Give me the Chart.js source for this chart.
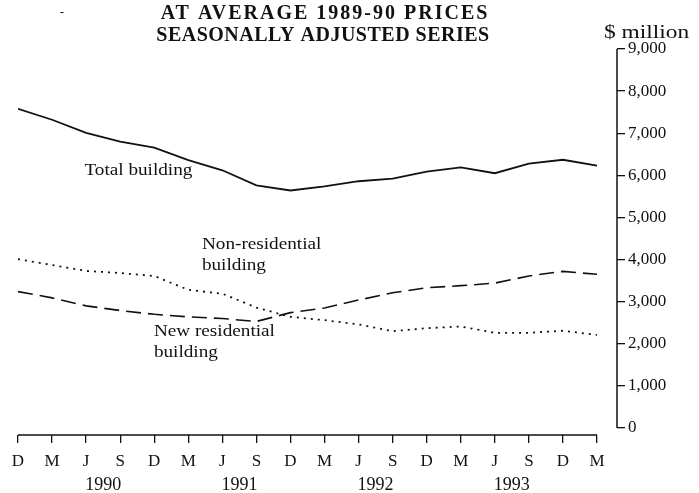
<!DOCTYPE html>
<html>
<head>
<meta charset="utf-8">
<script src="https://cdn.jsdelivr.net/npm/chart.js@4.4.1/dist/chart.umd.min.js"></script>
<style>
  html, body { margin: 0; padding: 0; background: #fff; }
</style>
</head>
<body>
<canvas id="chart" width="699" height="493"></canvas>
<script>
// quarterly building activity, Dec 1989 to Mar 1994 ($ million, 1989-90 prices)
const quarters = ['D','M','J','S','D','M','J','S','D','M','J','S','D','M','J','S','D','M'];
const years = ['1990','1991','1992','1993'];
const yearPos = [2.5, 6.5, 10.5, 14.5];   // centred between J and S of each year
const yTicks = [0,1000,2000,3000,4000,5000,6000,7000,8000,9000];

const totalBuilding  = [7580,7320,7010,6800,6660,6360,6120,5760,5640,5740,5860,5920,6090,6190,6050,6280,6370,6230];
const nonResidential = [4010,3870,3730,3680,3610,3280,3190,2860,2640,2560,2460,2300,2370,2410,2260,2260,2310,2210];
const newResidential = [3240,3090,2900,2790,2700,2640,2600,2530,2740,2850,3040,3210,3330,3380,3440,3610,3720,3650];

const SERIF = '"Liberation Serif", "Times New Roman", serif';
const ink = '#111';

function pts(arr){ return arr.map((v, i) => ({x: i, y: v})); }

// text labels next to the lines, anchored in data units
const seriesLabels = [
  {lines: ['Total building'], x: 1.95, y: 6100},
  {lines: ['Non-residential', 'building'], x: 5.4, y: 4350},
  {lines: ['New residential', 'building'], x: 3.99, y: 2290}
];

// the scanned lettering is a bit wider than Liberation Serif, so stretch it
function wideText(ctx, t, x, y, sx){
  ctx.save();
  ctx.translate(x, y);
  ctx.scale(sx, 1);
  ctx.fillText(t, 0, 0);
  ctx.restore();
}

const decor = {
  id: 'decor',
  afterDraw(chart){
    const {ctx, chartArea, scales: {x, y}} = chart;
    ctx.save();
    ctx.strokeStyle = ink;
    ctx.lineWidth = 1.5;
    // x axis only spans the quarters
    ctx.beginPath();
    ctx.moveTo(x.getPixelForValue(0), chartArea.bottom);
    ctx.lineTo(x.getPixelForValue(quarters.length - 1), chartArea.bottom);
    ctx.stroke();
    // y axis from 0 to 9,000
    ctx.beginPath();
    ctx.moveTo(chartArea.right, y.getPixelForValue(0));
    ctx.lineTo(chartArea.right, y.getPixelForValue(9000));
    ctx.stroke();

    ctx.fillStyle = ink;
    ctx.textBaseline = 'middle';
    ctx.textAlign = 'left';
    ctx.font = '16px ' + SERIF;
    seriesLabels.forEach(l => {
      const px = x.getPixelForValue(l.x);
      const py = y.getPixelForValue(l.y);
      l.lines.forEach((t, k) => wideText(ctx, t, px, py + k * 21, 1.2));
    });

    ctx.font = '18px ' + SERIF;
    wideText(ctx, '$ million', 604, 33, 1.3);

    ctx.textAlign = 'center';
    ctx.font = 'bold 20px ' + SERIF;
    ctx.letterSpacing = '2px';
    ctx.fillText('AT AVERAGE 1989-90 PRICES', 325, 14);
    ctx.letterSpacing = '0.5px';
    ctx.fillText('SEASONALLY ADJUSTED SERIES', 323, 36);
    ctx.letterSpacing = '0px';
    ctx.font = 'bold 12px ' + SERIF;
    ctx.fillText('-', 62, 13);
    ctx.restore();
  }
};

const xMax = 17.587;

const cfg = {
  type: 'line',
  data: {
    datasets: [
      {label: 'Total building', data: pts(totalBuilding), borderColor: ink, borderWidth: 1.8},
      {label: 'Non-residential building', data: pts(nonResidential), borderColor: ink, borderWidth: 1.8, borderDash: [2, 5]},
      {label: 'New residential building', data: pts(newResidential), borderColor: ink, borderWidth: 1.6, borderDash: [15, 7]}
    ]
  },
  options: {
    responsive: false,
    animation: false,
    devicePixelRatio: 1,
    layout: {padding: {top: 49, left: 18, right: 0, bottom: 0}},
    elements: {point: {radius: 0}, line: {tension: 0}},
    plugins: {legend: {display: false}, tooltip: {enabled: false}},
    scales: {
      x: {
        type: 'linear', position: 'bottom', min: 0, max: xMax, weight: 0,
        afterBuildTicks: s => { s.ticks = quarters.map((q, i) => ({value: i})); },
        afterFit: s => { s.height = 31; },
        ticks: {autoSkip: false, maxRotation: 0, padding: 8, color: ink, font: {family: SERIF, size: 17},
                callback: (v, i) => quarters[i]},
        grid: {display: true, drawOnChartArea: false, drawTicks: true, tickLength: 8, color: ink, lineWidth: 1.3},
        border: {display: false}
      },
      x2: {
        type: 'linear', position: 'bottom', min: 0, max: xMax, weight: 1,
        afterBuildTicks: s => { s.ticks = yearPos.map(v => ({value: v})); },
        afterFit: s => { s.height = 27; },
        ticks: {autoSkip: false, maxRotation: 0, padding: 0, color: ink, font: {family: SERIF, size: 18},
                callback: (v, i) => years[i]},
        grid: {display: false},
        border: {display: false}
      },
      y: {
        type: 'linear', position: 'right', min: -166, max: 9000,
        afterBuildTicks: s => { s.ticks = yTicks.map(v => ({value: v})); },
        afterFit: s => { s.width = 82; },
        ticks: {padding: 3, color: ink, font: {family: SERIF, size: 17},
                callback: v => v.toLocaleString('en-US')},
        grid: {display: true, drawOnChartArea: false, drawTicks: true, tickLength: 8, color: ink, lineWidth: 1.3},
        border: {display: false}
      }
    }
  },
  plugins: [decor]
};

new Chart(document.getElementById('chart').getContext('2d'), cfg);
</script>
</body>
</html>
